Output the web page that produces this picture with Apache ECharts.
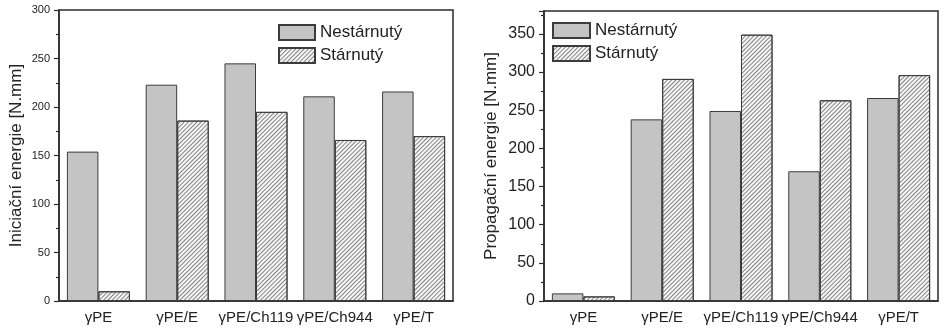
<!DOCTYPE html>
<html>
<head>
<meta charset="utf-8">
<script src="https://cdn.jsdelivr.net/npm/echarts@6/dist/echarts.min.js"></script>
<style>
  html, body { margin: 0; padding: 0; background: #fff; }
  #chart { width: 945px; height: 333px; }
</style>
</head>
<body>
<div id="chart"></div>
<script>
// Sample groups along the x axis
const categories = ['γPE', 'γPE/E', 'γPE/Ch119', 'γPE/Ch944', 'γPE/T'];
const seriesNames = ['Nestárnutý', 'Stárnutý'];

// Initiation energy [N.mm]
const initUnaged = [154, 223, 245, 211, 216];
const initAged = [10, 186, 195, 166, 170];

// Propagation energy [N.mm]
const propUnaged = [10, 238, 249, 170, 266];
const propAged = [6, 291, 349, 263, 296];

const yTitles = ['Iniciační energie [N.mm]', 'Propagační energie [N.mm]'];

const FONT = '"Liberation Sans", Arial, sans-serif';
const AXIS_COLOR = '#2b2b2b';

const solidStyle = {
  color: '#c4c4c4',
  borderColor: '#3c3c3c',
  borderWidth: 1
};
const hatchStyle = {
  color: '#f7f7f7',
  borderColor: '#3c3c3c',
  borderWidth: 1,
  decal: {
    symbol: 'rect',
    symbolSize: 1,
    color: 'rgba(110,110,110,0.85)',
    dashArrayX: [1, 0],
    dashArrayY: [1, 2],
    rotation: -Math.PI / 4
  }
};

function catAxes(gridIndex) {
  return [
    {
      type: 'category', gridIndex, data: categories,
      axisLine: { lineStyle: { color: AXIS_COLOR, width: 1.5 } },
      axisTick: { alignWithLabel: true, length: 5, lineStyle: { color: AXIS_COLOR, width: 1.2 } },
      axisLabel: { interval: 0, color: '#222', fontFamily: FONT, fontSize: 15, margin: 9 }
    },
    {
      type: 'category', gridIndex, data: categories, position: 'bottom',
      axisLine: { show: false },
      axisTick: { length: 4, lineStyle: { color: AXIS_COLOR, width: 1.2 } },
      axisLabel: { show: false }
    }
  ];
}

function valAxis(gridIndex, max, labelSize, name, nameGap) {
  return {
    type: 'value', gridIndex, min: 0, max, interval: 50,
    name, nameLocation: 'middle', nameGap,
    nameTextStyle: { fontFamily: FONT, fontSize: 17, color: '#222' },
    splitLine: { show: false },
    axisLine: { show: true, lineStyle: { color: AXIS_COLOR, width: 1.5 } },
    axisTick: { show: true, length: 5, lineStyle: { color: AXIS_COLOR, width: 1.2 } },
    minorTick: { show: true, splitNumber: 2, length: 3, lineStyle: { color: AXIS_COLOR, width: 1.2 } },
    axisLabel: {
      fontFamily: FONT, fontSize: labelSize, color: '#222', margin: 9,
      formatter: v => (v % 50 === 0 ? String(v) : '')
    }
  };
}

function barSeries(name, data, style, xAxisIndex, yAxisIndex) {
  return {
    type: 'bar', name, data, xAxisIndex, yAxisIndex,
    barGap: '0%', barCategoryGap: '20%',
    itemStyle: style,
    emphasis: { disabled: true }
  };
}

const chart = echarts.init(document.getElementById('chart'), null, { renderer: 'canvas' });

chart.setOption({
  animation: false,
  backgroundColor: '#ffffff',
  grid: [
    { left: 59, top: 10, width: 394, height: 291, show: true, borderColor: AXIS_COLOR, borderWidth: 1.5, backgroundColor: 'transparent' },
    { left: 544, top: 11, width: 394, height: 290, show: true, borderColor: AXIS_COLOR, borderWidth: 1.5, backgroundColor: 'transparent' }
  ],
  legend: [
    {
      left: 273, top: 19, orient: 'vertical', data: seriesNames, icon: 'rect',
      itemWidth: 36, itemHeight: 15, itemGap: 6, selectedMode: false,
      textStyle: { fontFamily: FONT, fontSize: 17, color: '#222' }
    },
    {
      left: 547, top: 17, orient: 'vertical', data: seriesNames, icon: 'rect',
      itemWidth: 37, itemHeight: 15, itemGap: 6, selectedMode: false,
      textStyle: { fontFamily: FONT, fontSize: 17, color: '#222' }
    }
  ],
  xAxis: [...catAxes(0), ...catAxes(1)],
  yAxis: [
    valAxis(0, 300, 11, yTitles[0], 34),
    valAxis(1, 380, 16, yTitles[1], 44)
  ],
  series: [
    barSeries(seriesNames[0], initUnaged, solidStyle, 0, 0),
    barSeries(seriesNames[1], initAged, hatchStyle, 0, 0),
    barSeries(seriesNames[0], propUnaged, solidStyle, 2, 1),
    barSeries(seriesNames[1], propAged, hatchStyle, 2, 1)
  ]
});
</script>
</body>
</html>
